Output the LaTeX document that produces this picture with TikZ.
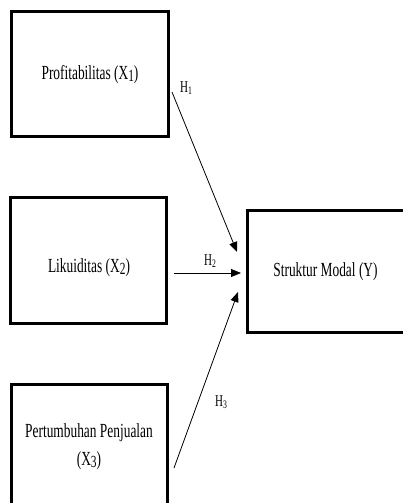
\documentclass[tikz,border=0pt]{standalone}
\usepackage{fontspec}
\setmainfont[FakeStretch=0.67]{Liberation Serif}
\usetikzlibrary{arrows.meta}
\newcommand{\lowsub}[1]{\raisebox{-2pt}{\fontsize{17}{17}\selectfont #1}}
\newcommand{\hsub}[1]{H\raisebox{-2.5pt}{\fontsize{11.5}{12}\selectfont #1}}
\begin{document}
\begin{tikzpicture}[x=1pt,y=-1pt,
  varbox/.style={draw,line width=3pt,rectangle,inner sep=0pt,outer sep=0pt},
  vartext/.style={inner sep=0pt,align=center,font=\fontsize{20}{28}\selectfont},
  hyp/.style={inner sep=0pt,font=\fontsize{16.5}{17}\selectfont},
  arr/.style={line width=0.8pt,-{Triangle[length=10pt,width=8pt]}}]
\useasboundingbox (0,0) rectangle (403,503);
% boxes
\node[varbox,minimum width=157pt,minimum height=124pt] (b1) at (89.5,74) {};
\node[varbox,minimum width=156pt,minimum height=126pt] (b2) at (88,260) {};
\node[varbox,minimum width=156pt,minimum height=140pt] (b3) at (89,454) {};
\node[varbox,minimum width=180pt,minimum height=122pt] (by) at (337,271) {};
% texts
\node[vartext] (t1) at (90,75) {Profitabilitas (X\lowsub{1})};
\node[vartext] (t2) at (89,268) {Likuiditas (X\lowsub{2})};
\node[vartext] (t3) at (89,447) {Pertumbuhan Penjualan\\(X\lowsub{3})};
\node[vartext] (ty) at (325.5,272) {Struktur Modal (Y)};
% arrow end points
\coordinate (s1) at (172,92);
\coordinate (s2) at (174,273);
\coordinate (s3) at (174,468);
\coordinate (e1) at (237,252);
\coordinate (e2) at (241,273);
\coordinate (e3) at (238,292);
\draw[arr] (s1) -- (e1);
\draw[arr] (s2) -- (e2);
\draw[arr] (s3) -- (e3);
% labels
\node[hyp] (h1) at (186,88) {\hsub{1}};
\node[hyp] (h2) at (210,261) {\hsub{2}};
\node[hyp] (h3) at (221,402) {\hsub{3}};
\end{tikzpicture}
\end{document}
